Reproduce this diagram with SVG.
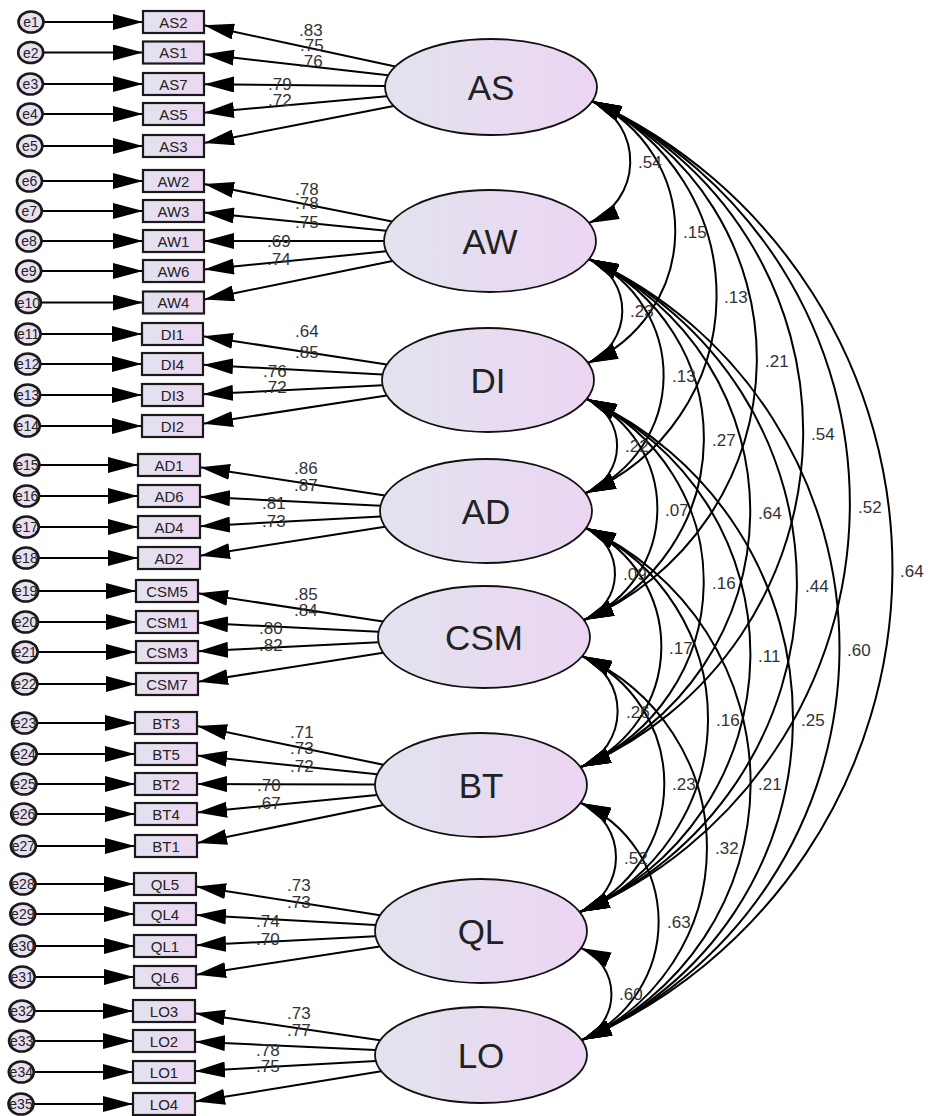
<svg xmlns="http://www.w3.org/2000/svg" width="932" height="1116" viewBox="0 0 932 1116">
<style>
.err ellipse{fill:#e8e0f0;stroke:#1a1a1a;stroke-width:2.6}
.err text{font-family:"Liberation Sans",Arial,sans-serif;font-size:14px;text-anchor:middle;fill:#222}
.obs rect{fill:url(#gB);stroke:#1a1a1a;stroke-width:2.2}
.obs text{font-family:"Liberation Sans",Arial,sans-serif;font-size:15px;text-anchor:middle;fill:#222}
.lat ellipse{fill:url(#gE);stroke:#111;stroke-width:1.8}
.lat text{font-family:"Liberation Sans",Arial,sans-serif;font-size:35px;text-anchor:middle;fill:#222}
#connectors line,#connectors path{stroke:#000;stroke-width:2;fill:none;marker-end:url(#ah)}
#connectors .cov path{marker-start:url(#ah)}
.lbl text{font-family:"Liberation Sans",Arial,sans-serif;font-size:17px;fill:#333}
</style>
<defs>
<linearGradient id="gE" x1="0" y1="0" x2="1" y2="0"><stop offset="0" stop-color="#e2e3ee"/><stop offset="1" stop-color="#ecd5f3"/></linearGradient>
<linearGradient id="gB" x1="0" y1="0" x2="1" y2="0"><stop offset="0" stop-color="#e3e2ef"/><stop offset="1" stop-color="#ecd7f1"/></linearGradient>
<marker id="ah" markerUnits="userSpaceOnUse" markerWidth="30" markerHeight="16" viewBox="0 0 30 16" refX="30" refY="8" orient="auto-start-reverse"><path d="M0,0 L30,8 L0,16 z" fill="#000"/></marker>
</defs>
<rect width="932" height="1116" fill="#fff"/>
<g id="connectors">
<g class="err-arrows">
<line x1="43.5" y1="22" x2="143" y2="22"/>
<line x1="43.2" y1="52.5" x2="143" y2="52.5"/>
<line x1="42.9" y1="84" x2="143" y2="84"/>
<line x1="42.6" y1="114" x2="143" y2="114"/>
<line x1="42.4" y1="146" x2="143" y2="146"/>
<line x1="42" y1="181" x2="143" y2="181"/>
<line x1="41.8" y1="211" x2="143" y2="211"/>
<line x1="41.5" y1="241" x2="143" y2="241"/>
<line x1="41.2" y1="271" x2="143" y2="271"/>
<line x1="40.9" y1="302.5" x2="143" y2="302.5"/>
<line x1="40.6" y1="334" x2="142" y2="334"/>
<line x1="40.3" y1="364" x2="142" y2="364"/>
<line x1="40.1" y1="395" x2="142" y2="395"/>
<line x1="39.8" y1="426" x2="142" y2="426"/>
<line x1="39.4" y1="465" x2="138" y2="465"/>
<line x1="39.1" y1="496" x2="138" y2="496"/>
<line x1="38.8" y1="527" x2="138" y2="527"/>
<line x1="38.5" y1="558" x2="138" y2="558"/>
<line x1="38.2" y1="591" x2="136" y2="591"/>
<line x1="38" y1="622" x2="136" y2="622"/>
<line x1="37.7" y1="652" x2="136" y2="652"/>
<line x1="37.4" y1="684" x2="136" y2="684"/>
<line x1="37" y1="723" x2="135" y2="723"/>
<line x1="36.7" y1="754" x2="135" y2="754"/>
<line x1="36.5" y1="784" x2="135" y2="784"/>
<line x1="36.2" y1="814" x2="135" y2="814"/>
<line x1="35.9" y1="846" x2="135" y2="846"/>
<line x1="35.5" y1="884" x2="134" y2="884"/>
<line x1="35.3" y1="914" x2="134" y2="914"/>
<line x1="35" y1="946" x2="134" y2="946"/>
<line x1="34.7" y1="977" x2="134" y2="977"/>
<line x1="34.4" y1="1011" x2="133" y2="1011"/>
<line x1="34.1" y1="1041" x2="133" y2="1041"/>
<line x1="33.8" y1="1072" x2="133" y2="1072"/>
<line x1="33.5" y1="1104" x2="133" y2="1104"/>
</g>
<g class="loadings">
<path d="M395.3,66.4 L204,25.3"/>
<path d="M388.2,75.3 L204,54.2"/>
<path d="M385,85.9 L204,84.2"/>
<path d="M387,96.3 L204,112.7"/>
<path d="M393.7,106 L204,143.1"/>
<path d="M392.1,221.5 L204,184"/>
<path d="M386.2,230.7 L204,212.5"/>
<path d="M384,241 L204,241"/>
<path d="M386.2,251.3 L204,269.5"/>
<path d="M392.4,260.9 L204,299.4"/>
<path d="M386.8,364.5 L203,336.3"/>
<path d="M382.6,374.4 L203,364.8"/>
<path d="M382.5,385.3 L203,394.3"/>
<path d="M386.8,395.5 L203,423.7"/>
<path d="M384.8,495.5 L200,467.3"/>
<path d="M380.6,505.7 L200,496.8"/>
<path d="M380.6,516.6 L200,526.2"/>
<path d="M385,526.8 L200,555.7"/>
<path d="M383,621.6 L198,593.3"/>
<path d="M378.6,631.8 L198,622.8"/>
<path d="M378.6,642.3 L198,651.3"/>
<path d="M383.2,652.7 L198,681.7"/>
<path d="M383.4,764.8 L197,726.1"/>
<path d="M377.3,774.3 L197,755.6"/>
<path d="M375,784.6 L197,784"/>
<path d="M377,795.1 L197,812.6"/>
<path d="M383.1,805 L197,843"/>
<path d="M380,915.2 L196,886.4"/>
<path d="M375.7,925 L196,914.9"/>
<path d="M375.5,936.3 L196,945.3"/>
<path d="M379.8,946.5 L196,974.7"/>
<path d="M380.1,1040.3 L195,1013.2"/>
<path d="M375.6,1050.1 L195,1041.7"/>
<path d="M375.8,1060.9 L195,1071.2"/>
<path d="M381.2,1071.2 L195,1101.6"/>
</g>
<g class="cov">
<path d="M592,101 A66.7,66.7 0 0 1 589,223"/>
<path d="M592,101 A143.3,143.3 0 0 1 588,363"/>
<path d="M592,101 A214.4,214.4 0 0 1 586,493"/>
<path d="M592,101 A283.9,283.9 0 0 1 584,620"/>
<path d="M592,101 A364.3,364.3 0 0 1 581,767"/>
<path d="M592,101 A443.6,443.6 0 0 1 580,912"/>
<path d="M592,101 A513.6,513.6 0 0 1 582,1040"/>
<path d="M589,259 A56.9,56.9 0 0 1 588,363"/>
<path d="M589,259 A128,128 0 0 1 586,493"/>
<path d="M589,259 A197.5,197.5 0 0 1 584,620"/>
<path d="M589,259 A277.9,277.9 0 0 1 581,767"/>
<path d="M589,259 A357.2,357.2 0 0 1 580,912"/>
<path d="M589,259 A427.2,427.2 0 0 1 582,1040"/>
<path d="M587,399 A51.4,51.4 0 0 1 586,493"/>
<path d="M587,399 A120.9,120.9 0 0 1 584,620"/>
<path d="M587,399 A201.3,201.3 0 0 1 581,767"/>
<path d="M587,399 A280.6,280.6 0 0 1 580,912"/>
<path d="M587,399 A350.6,350.6 0 0 1 582,1040"/>
<path d="M586,528 A50.3,50.3 0 0 1 584,620"/>
<path d="M586,528 A130.7,130.7 0 0 1 581,767"/>
<path d="M586,528 A210,210 0 0 1 580,912"/>
<path d="M586,528 A280,280 0 0 1 582,1040"/>
<path d="M582,656 A60.7,60.7 0 0 1 581,767"/>
<path d="M582,656 A140,140 0 0 1 580,912"/>
<path d="M582,656 A210,210 0 0 1 582,1040"/>
<path d="M581,803 A59.6,59.6 0 0 1 580,912"/>
<path d="M581,803 A129.6,129.6 0 0 1 582,1040"/>
<path d="M581,948 A50.3,50.3 0 0 1 582,1040"/>
</g>
</g>
<g class="err">
<g id="e1"><ellipse cx="31" cy="22" rx="12.5" ry="10.5"/><text x="31" y="27">e1</text></g>
<g id="e2"><ellipse cx="30.7" cy="52.5" rx="12.5" ry="10.5"/><text x="30.7" y="57.5">e2</text></g>
<g id="e3"><ellipse cx="30.4" cy="84" rx="12.5" ry="10.5"/><text x="30.4" y="89">e3</text></g>
<g id="e4"><ellipse cx="30.1" cy="114" rx="12.5" ry="10.5"/><text x="30.1" y="119">e4</text></g>
<g id="e5"><ellipse cx="29.9" cy="146" rx="12.5" ry="10.5"/><text x="29.9" y="151">e5</text></g>
<g id="e6"><ellipse cx="29.5" cy="181" rx="12.5" ry="10.5"/><text x="29.5" y="186">e6</text></g>
<g id="e7"><ellipse cx="29.3" cy="211" rx="12.5" ry="10.5"/><text x="29.3" y="216">e7</text></g>
<g id="e8"><ellipse cx="29" cy="241" rx="12.5" ry="10.5"/><text x="29" y="246">e8</text></g>
<g id="e9"><ellipse cx="28.7" cy="271" rx="12.5" ry="10.5"/><text x="28.7" y="276">e9</text></g>
<g id="e10"><ellipse cx="28.4" cy="302.5" rx="12.5" ry="10.5"/><text x="28.4" y="307.5">e10</text></g>
<g id="e11"><ellipse cx="28.1" cy="334" rx="12.5" ry="10.5"/><text x="28.1" y="339">e11</text></g>
<g id="e12"><ellipse cx="27.8" cy="364" rx="12.5" ry="10.5"/><text x="27.8" y="369">e12</text></g>
<g id="e13"><ellipse cx="27.6" cy="395" rx="12.5" ry="10.5"/><text x="27.6" y="400">e13</text></g>
<g id="e14"><ellipse cx="27.3" cy="426" rx="12.5" ry="10.5"/><text x="27.3" y="431">e14</text></g>
<g id="e15"><ellipse cx="26.9" cy="465" rx="12.5" ry="10.5"/><text x="26.9" y="470">e15</text></g>
<g id="e16"><ellipse cx="26.6" cy="496" rx="12.5" ry="10.5"/><text x="26.6" y="501">e16</text></g>
<g id="e17"><ellipse cx="26.3" cy="527" rx="12.5" ry="10.5"/><text x="26.3" y="532">e17</text></g>
<g id="e18"><ellipse cx="26" cy="558" rx="12.5" ry="10.5"/><text x="26" y="563">e18</text></g>
<g id="e19"><ellipse cx="25.7" cy="591" rx="12.5" ry="10.5"/><text x="25.7" y="596">e19</text></g>
<g id="e20"><ellipse cx="25.5" cy="622" rx="12.5" ry="10.5"/><text x="25.5" y="627">e20</text></g>
<g id="e21"><ellipse cx="25.2" cy="652" rx="12.5" ry="10.5"/><text x="25.2" y="657">e21</text></g>
<g id="e22"><ellipse cx="24.9" cy="684" rx="12.5" ry="10.5"/><text x="24.9" y="689">e22</text></g>
<g id="e23"><ellipse cx="24.5" cy="723" rx="12.5" ry="10.5"/><text x="24.5" y="728">e23</text></g>
<g id="e24"><ellipse cx="24.2" cy="754" rx="12.5" ry="10.5"/><text x="24.2" y="759">e24</text></g>
<g id="e25"><ellipse cx="24" cy="784" rx="12.5" ry="10.5"/><text x="24" y="789">e25</text></g>
<g id="e26"><ellipse cx="23.7" cy="814" rx="12.5" ry="10.5"/><text x="23.7" y="819">e26</text></g>
<g id="e27"><ellipse cx="23.4" cy="846" rx="12.5" ry="10.5"/><text x="23.4" y="851">e27</text></g>
<g id="e28"><ellipse cx="23" cy="884" rx="12.5" ry="10.5"/><text x="23" y="889">e28</text></g>
<g id="e29"><ellipse cx="22.8" cy="914" rx="12.5" ry="10.5"/><text x="22.8" y="919">e29</text></g>
<g id="e30"><ellipse cx="22.5" cy="946" rx="12.5" ry="10.5"/><text x="22.5" y="951">e30</text></g>
<g id="e31"><ellipse cx="22.2" cy="977" rx="12.5" ry="10.5"/><text x="22.2" y="982">e31</text></g>
<g id="e32"><ellipse cx="21.9" cy="1011" rx="12.5" ry="10.5"/><text x="21.9" y="1016">e32</text></g>
<g id="e33"><ellipse cx="21.6" cy="1041" rx="12.5" ry="10.5"/><text x="21.6" y="1046">e33</text></g>
<g id="e34"><ellipse cx="21.3" cy="1072" rx="12.5" ry="10.5"/><text x="21.3" y="1077">e34</text></g>
<g id="e35"><ellipse cx="21" cy="1104" rx="12.5" ry="10.5"/><text x="21" y="1109">e35</text></g>
</g>
<g class="obs">
<g id="AS2"><rect x="143" y="11" width="61" height="22"/><text x="173.5" y="27.5">AS2</text></g>
<g id="AS1"><rect x="143" y="41.5" width="61" height="22"/><text x="173.5" y="58">AS1</text></g>
<g id="AS7"><rect x="143" y="73" width="61" height="22"/><text x="173.5" y="89.5">AS7</text></g>
<g id="AS5"><rect x="143" y="103" width="61" height="22"/><text x="173.5" y="119.5">AS5</text></g>
<g id="AS3"><rect x="143" y="135" width="61" height="22"/><text x="173.5" y="151.5">AS3</text></g>
<g id="AW2"><rect x="143" y="170" width="61" height="22"/><text x="173.5" y="186.5">AW2</text></g>
<g id="AW3"><rect x="143" y="200" width="61" height="22"/><text x="173.5" y="216.5">AW3</text></g>
<g id="AW1"><rect x="143" y="230" width="61" height="22"/><text x="173.5" y="246.5">AW1</text></g>
<g id="AW6"><rect x="143" y="260" width="61" height="22"/><text x="173.5" y="276.5">AW6</text></g>
<g id="AW4"><rect x="143" y="291.5" width="61" height="22"/><text x="173.5" y="308">AW4</text></g>
<g id="DI1"><rect x="142" y="323" width="61" height="22"/><text x="172.5" y="339.5">DI1</text></g>
<g id="DI4"><rect x="142" y="353" width="61" height="22"/><text x="172.5" y="369.5">DI4</text></g>
<g id="DI3"><rect x="142" y="384" width="61" height="22"/><text x="172.5" y="400.5">DI3</text></g>
<g id="DI2"><rect x="142" y="415" width="61" height="22"/><text x="172.5" y="431.5">DI2</text></g>
<g id="AD1"><rect x="138" y="454" width="62" height="22"/><text x="169" y="470.5">AD1</text></g>
<g id="AD6"><rect x="138" y="485" width="62" height="22"/><text x="169" y="501.5">AD6</text></g>
<g id="AD4"><rect x="138" y="516" width="62" height="22"/><text x="169" y="532.5">AD4</text></g>
<g id="AD2"><rect x="138" y="547" width="62" height="22"/><text x="169" y="563.5">AD2</text></g>
<g id="CSM5"><rect x="136" y="580" width="62" height="22"/><text x="167" y="596.5">CSM5</text></g>
<g id="CSM1"><rect x="136" y="611" width="62" height="22"/><text x="167" y="627.5">CSM1</text></g>
<g id="CSM3"><rect x="136" y="641" width="62" height="22"/><text x="167" y="657.5">CSM3</text></g>
<g id="CSM7"><rect x="136" y="673" width="62" height="22"/><text x="167" y="689.5">CSM7</text></g>
<g id="BT3"><rect x="135" y="712" width="62" height="22"/><text x="166" y="728.5">BT3</text></g>
<g id="BT5"><rect x="135" y="743" width="62" height="22"/><text x="166" y="759.5">BT5</text></g>
<g id="BT2"><rect x="135" y="773" width="62" height="22"/><text x="166" y="789.5">BT2</text></g>
<g id="BT4"><rect x="135" y="803" width="62" height="22"/><text x="166" y="819.5">BT4</text></g>
<g id="BT1"><rect x="135" y="835" width="62" height="22"/><text x="166" y="851.5">BT1</text></g>
<g id="QL5"><rect x="134" y="873" width="62" height="22"/><text x="165" y="889.5">QL5</text></g>
<g id="QL4"><rect x="134" y="903" width="62" height="22"/><text x="165" y="919.5">QL4</text></g>
<g id="QL1"><rect x="134" y="935" width="62" height="22"/><text x="165" y="951.5">QL1</text></g>
<g id="QL6"><rect x="134" y="966" width="62" height="22"/><text x="165" y="982.5">QL6</text></g>
<g id="LO3"><rect x="133" y="1000" width="62" height="22"/><text x="164" y="1016.5">LO3</text></g>
<g id="LO2"><rect x="133" y="1030" width="62" height="22"/><text x="164" y="1046.5">LO2</text></g>
<g id="LO1"><rect x="133" y="1061" width="62" height="22"/><text x="164" y="1077.5">LO1</text></g>
<g id="LO4"><rect x="133" y="1093" width="62" height="22"/><text x="164" y="1109.5">LO4</text></g>
</g>
<g class="lat">
<g id="AS"><ellipse cx="491" cy="87" rx="106" ry="48"/><text x="491" y="99.5">AS</text></g>
<g id="AW"><ellipse cx="490" cy="241" rx="106" ry="51"/><text x="490" y="253.5">AW</text></g>
<g id="DI"><ellipse cx="488" cy="380" rx="106" ry="52"/><text x="488" y="392.5">DI</text></g>
<g id="AD"><ellipse cx="486" cy="511" rx="106" ry="52"/><text x="486" y="523.5">AD</text></g>
<g id="CSM"><ellipse cx="484" cy="637" rx="106" ry="51"/><text x="484" y="649.5">CSM</text></g>
<g id="BT"><ellipse cx="481" cy="785" rx="106" ry="52"/><text x="481" y="797.5">BT</text></g>
<g id="QL"><ellipse cx="481" cy="931" rx="106" ry="52"/><text x="481" y="943.5">QL</text></g>
<g id="LO"><ellipse cx="481" cy="1055" rx="106" ry="48"/><text x="481" y="1067.5">LO</text></g>
</g>
<g class="lbl" id="loading-labels">
<text x="299" y="36">.83</text><text x="300" y="51">.75</text><text x="299" y="67">.76</text><text x="268" y="90">.79</text><text x="268" y="106">.72</text>
<text x="295" y="195">.78</text><text x="295" y="209">.78</text><text x="295" y="228">.75</text><text x="267" y="247">.69</text><text x="267" y="265">.74</text>
<text x="295" y="337">.64</text><text x="295" y="358">.85</text><text x="263" y="377">.76</text><text x="263" y="393">.72</text>
<text x="294" y="474">.86</text><text x="294" y="491">.87</text><text x="262" y="509">.81</text><text x="262" y="527">.73</text>
<text x="294" y="600">.85</text><text x="294" y="616">.84</text><text x="259" y="634">.80</text><text x="259" y="651">.82</text>
<text x="290" y="738">.71</text><text x="290" y="754">.73</text><text x="290" y="772">.72</text><text x="257" y="791">.70</text><text x="257" y="809">.67</text>
<text x="287" y="891">.73</text><text x="287" y="908">.73</text><text x="256" y="927">.74</text><text x="256" y="945">.70</text>
<text x="287" y="1019">.73</text><text x="287" y="1036">.77</text><text x="256" y="1056">.78</text><text x="256" y="1072">.75</text>
</g>
<g class="lbl" id="cov-labels">
<text x="638" y="168">.54</text><text x="683" y="238">.15</text><text x="724" y="303">.13</text><text x="765" y="367">.21</text><text x="811" y="440">.54</text><text x="858" y="513">.52</text><text x="900" y="577">.64</text>
<text x="630" y="317">.23</text><text x="672" y="382">.13</text><text x="712" y="446">.27</text><text x="758" y="519">.64</text><text x="805" y="592">.44</text><text x="847" y="656">.60</text>
<text x="625" y="452">.22</text><text x="665" y="516">.07</text><text x="712" y="589">.16</text><text x="758" y="662">.11</text><text x="801" y="726">.25</text>
<text x="623" y="580">.09</text><text x="669" y="654">.17</text><text x="716" y="726">.16</text><text x="758" y="790">.21</text>
<text x="626" y="718">.26</text><text x="672" y="790">.23</text><text x="715" y="854">.32</text>
<text x="624" y="864">.52</text><text x="667" y="928">.63</text>
<text x="619" y="1000">.60</text>
</g>
</svg>
